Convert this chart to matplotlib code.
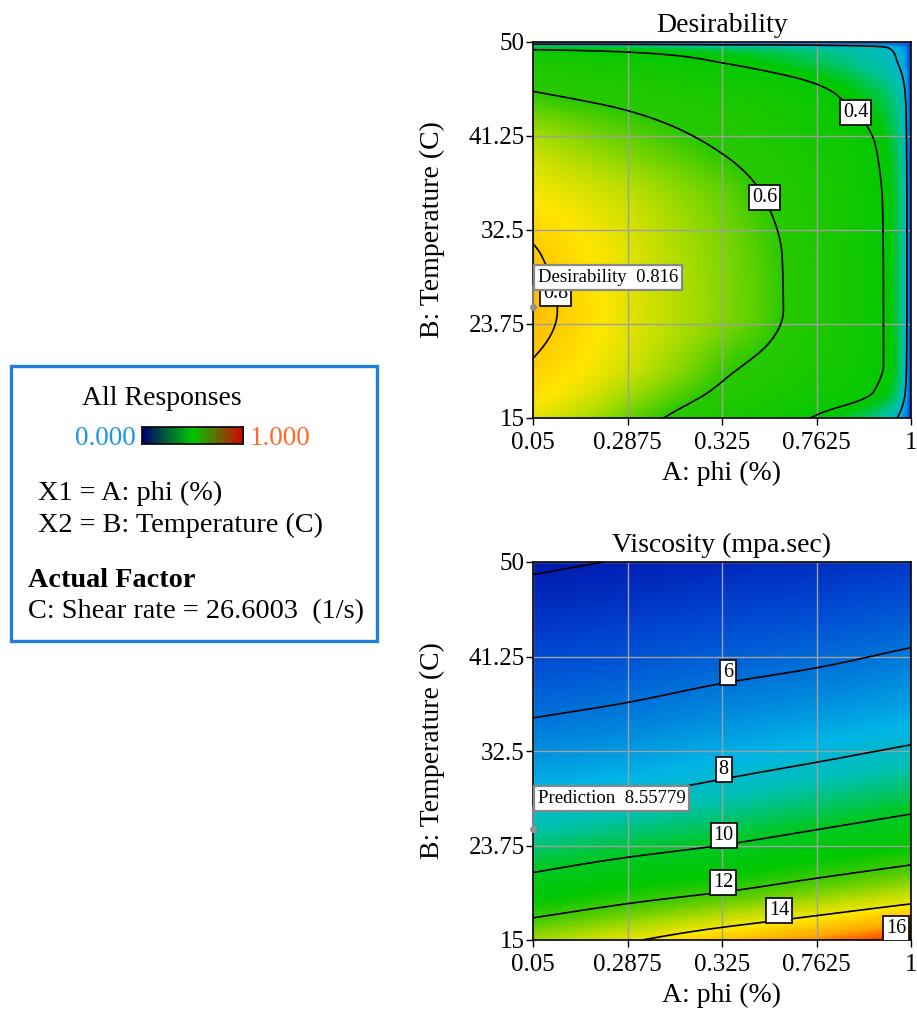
import numpy as np
import matplotlib
matplotlib.use('Agg')
import matplotlib.pyplot as plt
from matplotlib.colors import LinearSegmentedColormap, Normalize
from matplotlib.patches import Rectangle

plt.rcParams['font.family'] = ['Liberation Serif', 'DejaVu Serif']

# axis ticks (phi ticks sit evenly over 0.05..1)
phi_ticks = [0.05, 0.2875, 0.525, 0.7625, 1.0]
phi_tick_labels = ['0.05', '0.2875', '0.325', '0.7625', '1']
temp_ticks = [15, 23.75, 32.5, 41.25, 50]
temp_tick_labels = ['15', '23.75', '32.5', '41.25', '50']

# desirability over phi x temperature (rows = temperature)
des_phi = [0.05, 0.169, 0.2875, 0.406, 0.525, 0.644, 0.7625, 0.881, 0.9525, 0.986, 1.0]
des_temp = [15, 17.5, 20, 25, 30, 35, 40, 45, 48, 49.5, 50]
des_values = [
    [0.750, 0.710, 0.650, 0.585, 0.520, 0.460, 0.390, 0.310, 0.230, 0.120, 0.010],
    [0.780, 0.750, 0.700, 0.645, 0.585, 0.530, 0.475, 0.420, 0.340, 0.200, 0.020],
    [0.797, 0.770, 0.735, 0.685, 0.622, 0.575, 0.505, 0.440, 0.370, 0.230, 0.020],
    [0.818, 0.783, 0.748, 0.712, 0.672, 0.620, 0.545, 0.460, 0.360, 0.240, 0.020],
    [0.806, 0.775, 0.745, 0.708, 0.668, 0.618, 0.543, 0.458, 0.360, 0.240, 0.020],
    [0.770, 0.750, 0.725, 0.690, 0.650, 0.597, 0.530, 0.450, 0.360, 0.240, 0.020],
    [0.720, 0.690, 0.660, 0.630, 0.595, 0.550, 0.490, 0.430, 0.340, 0.230, 0.020],
    [0.610, 0.590, 0.570, 0.545, 0.515, 0.480, 0.430, 0.355, 0.290, 0.200, 0.020],
    [0.520, 0.500, 0.470, 0.440, 0.403, 0.365, 0.325, 0.270, 0.220, 0.150, 0.010],
    [0.360, 0.350, 0.340, 0.320, 0.300, 0.285, 0.265, 0.230, 0.190, 0.120, 0.010],
    [0.050, 0.050, 0.045, 0.045, 0.040, 0.040, 0.035, 0.030, 0.025, 0.015, 0.000],
]
des_plain_levels = [0.2]
des_label_levels = [0.4, 0.6, 0.8]
des_label_pos = [(0.868, 43.7), (0.637, 35.6), (0.113, 26.6)]
des_color_stops = [0.0, 0.08, 0.17, 0.27, 0.37, 0.6, 0.7, 0.77, 0.83]
des_colors = ['#0038d4', '#0070e0', '#00b0e0', '#00c39a', '#00c800',
              '#28c800', '#a8dc00', '#ffe600', '#ffb400']

# viscosity (mpa.sec) over phi x temperature (rows = temperature)
visc_phi = [0.05, 0.2875, 0.525, 0.7625, 1.0]
visc_temp = [15, 20, 25, 30, 35, 40, 45, 50]
visc_values = [
    [13.10, 13.87, 14.73, 15.43, 16.22],
    [10.52, 11.17, 11.70, 12.37, 13.01],
    [8.65, 9.10, 9.54, 10.08, 10.64],
    [7.28, 7.54, 7.97, 8.41, 8.88],
    [6.11, 6.39, 6.77, 7.11, 7.51],
    [5.24, 5.47, 5.77, 6.04, 6.41],
    [4.50, 4.71, 4.95, 5.15, 5.46],
    [3.85, 4.05, 4.24, 4.40, 4.63],
]
visc_plain_levels = [4]
visc_label_levels = [6, 8, 10, 12, 14, 16]
visc_label_pos = [(0.536, 39.6), (0.525, 30.8), (0.525, 24.9), (0.525, 20.4),
                  (0.666, 17.7), (0.962, 15.4)]
visc_color_stops = [3.85, 5.0, 6.3, 7.5, 8.5, 9.8, 11.2, 12.3, 13.3, 14.2, 15.2, 16.22]
visc_colors = ['#0018b0', '#0048d2', '#0080dc', '#00b4e6', '#00c0b4', '#00c828',
               '#00c800', '#50cc00', '#b4dc00', '#ffe600', '#ffaa00', '#ff2800']

# optimum point flags
opt_phi, opt_temp = 0.05, 25.3
des_flag = 'Desirability  0.816'
visc_flag = 'Prediction  8.55779'

legend_cmap = LinearSegmentedColormap.from_list(
    'legend', ['#00006e', '#00c800', '#d80000'])


def stop_cmap(stops, colors):
    lo, hi = stops[0], stops[-1]
    pos = [(s - lo) / (hi - lo) for s in stops]
    return LinearSegmentedColormap.from_list('surf', list(zip(pos, colors))), Normalize(lo, hi)


def pchip(x, y, xq):
    # monotone cubic (Fritsch-Carlson), no overshoot between nodes
    x = np.asarray(x, float)
    y = np.asarray(y, float)
    h = np.diff(x)
    delta = np.diff(y) / h
    d = np.zeros_like(y)
    d[0], d[-1] = delta[0], delta[-1]
    for k in range(1, len(x) - 1):
        if delta[k - 1] * delta[k] > 0:
            w1 = 2 * h[k] + h[k - 1]
            w2 = h[k] + 2 * h[k - 1]
            d[k] = (w1 + w2) / (w1 / delta[k - 1] + w2 / delta[k])
    i = np.clip(np.searchsorted(x, xq) - 1, 0, len(x) - 2)
    t = (xq - x[i]) / h[i]
    return ((1 + 2 * t) * (1 - t) ** 2 * y[i] + t * (1 - t) ** 2 * h[i] * d[i]
            + t ** 2 * (3 - 2 * t) * y[i + 1] + t ** 2 * (t - 1) * h[i] * d[i + 1])


def refine_surface(phi_nodes, temp_nodes, values, n=301):
    gx = np.linspace(0.05, 1.0, n)
    gy = np.linspace(15, 50, n)
    z = np.asarray(values, float)
    rows = np.array([pchip(phi_nodes, r, gx) for r in z])
    Z = np.array([pchip(temp_nodes, rows[:, j], gy) for j in range(n)]).T
    X, Y = np.meshgrid(gx, gy)
    return X, Y, Z


def draw_panel(ax, title, phi_nodes, temp_nodes, values, stops, colors, plain_levels,
               label_levels, label_pos, flag_text, label_va='center'):
    X, Y, Z = refine_surface(phi_nodes, temp_nodes, values)
    cmap, norm = stop_cmap(stops, colors)
    ax.imshow(Z, extent=[0.05, 1, 15, 50], origin='lower', aspect='auto',
              cmap=cmap, norm=norm, interpolation='bilinear', zorder=0)
    ax.grid(True, color='#a0a0a0', lw=1.0, zorder=1)
    ax.contour(X, Y, Z, levels=plain_levels, colors='black', linewidths=1.2, zorder=3)
    cs = ax.contour(X, Y, Z, levels=label_levels, colors='black', linewidths=1.2, zorder=3)
    texts = cs.clabel(manual=label_pos, inline=False, fontsize=14.5,
                      fmt=lambda v: f'{v:g}')
    for t in texts:
        t.set_rotation(0)
        t.set_zorder(4)
        t.set_va(label_va)
        t.set_bbox(dict(boxstyle='square,pad=0.15', fc='white', ec='black', lw=1.2))

    # flag at the optimum
    ax.plot([opt_phi, opt_phi], [opt_temp, 27.3], color='#909090', lw=1.2,
            clip_on=False, zorder=5)
    ax.plot(opt_phi, opt_temp, 'o', ms=4, color='#909090', clip_on=False, zorder=5)
    ax.text(0.062, 28.1, flag_text, fontsize=13.5, ha='left', va='center', zorder=6,
            bbox=dict(boxstyle='square,pad=0.2', fc='white', ec='#888888', lw=1.6))

    ax.set_xlim(0.05, 1)
    ax.set_ylim(15, 50)
    ax.set_xticks(phi_ticks)
    ax.set_xticklabels(phi_tick_labels)
    ax.set_yticks(temp_ticks)
    ax.set_yticklabels(temp_tick_labels)
    ax.tick_params(direction='out', length=5, width=1, labelsize=18)
    ax.tick_params(axis='y', pad=1)
    ax.tick_params(axis='x', pad=5)
    for sp in ax.spines.values():
        sp.set_color('black')
        sp.set_linewidth(1.2)
    ax.set_title(title, fontsize=20, pad=7)
    ax.set_xlabel('A: phi (%)', fontsize=20, labelpad=5)
    ax.set_ylabel('B: Temperature (C)', fontsize=20, labelpad=17)


fig = plt.figure(figsize=(9.17, 10.11), dpi=100)
W, H = 917, 1011

def px_axes(x0, y0, x1, y1):
    return fig.add_axes([x0 / W, 1 - y1 / H, (x1 - x0) / W, (y1 - y0) / H])

ax_des = px_axes(533, 42, 911, 418)
draw_panel(ax_des, 'Desirability', des_phi, des_temp, des_values,
           des_color_stops, des_colors, des_plain_levels, des_label_levels,
           des_label_pos, des_flag)

ax_visc = px_axes(533, 562, 911, 940)
draw_panel(ax_visc, 'Viscosity (mpa.sec)', visc_phi, visc_temp, visc_values,
           visc_color_stops, visc_colors, visc_plain_levels, visc_label_levels,
           visc_label_pos, visc_flag, label_va='bottom')

# legend block
fig.patches.append(Rectangle((11 / W, 1 - 641 / H), 366 / W, 275 / H,
                             transform=fig.transFigure, fill=False,
                             ec='#2080d8', lw=2.4))

def ftext(x, y, s, **kw):
    fig.text(x / W, 1 - y / H, s, va='baseline', ha='left', **kw)

ftext(82, 405, 'All Responses', fontsize=20)
ftext(75, 445, '0.000', fontsize=19.5, color='#1e96e6')
ftext(250, 445, '1.000', fontsize=19.5, color='#ff6a28')
cax = px_axes(142, 427, 243, 444)
cax.imshow(np.linspace(0, 1, 256)[None, :], aspect='auto', cmap=legend_cmap)
cax.set_xticks([])
cax.set_yticks([])
for sp in cax.spines.values():
    sp.set_linewidth(1.2)
ftext(38, 500, 'X1 = A: phi (%)', fontsize=20.3)
ftext(38, 532, 'X2 = B: Temperature (C)', fontsize=20.3)
ftext(28, 587, 'Actual Factor', fontsize=20.3, fontweight='bold')
ftext(28, 618, 'C: Shear rate = 26.6003  (1/s)', fontsize=20.3)

fig.savefig('out.png', dpi=100)
